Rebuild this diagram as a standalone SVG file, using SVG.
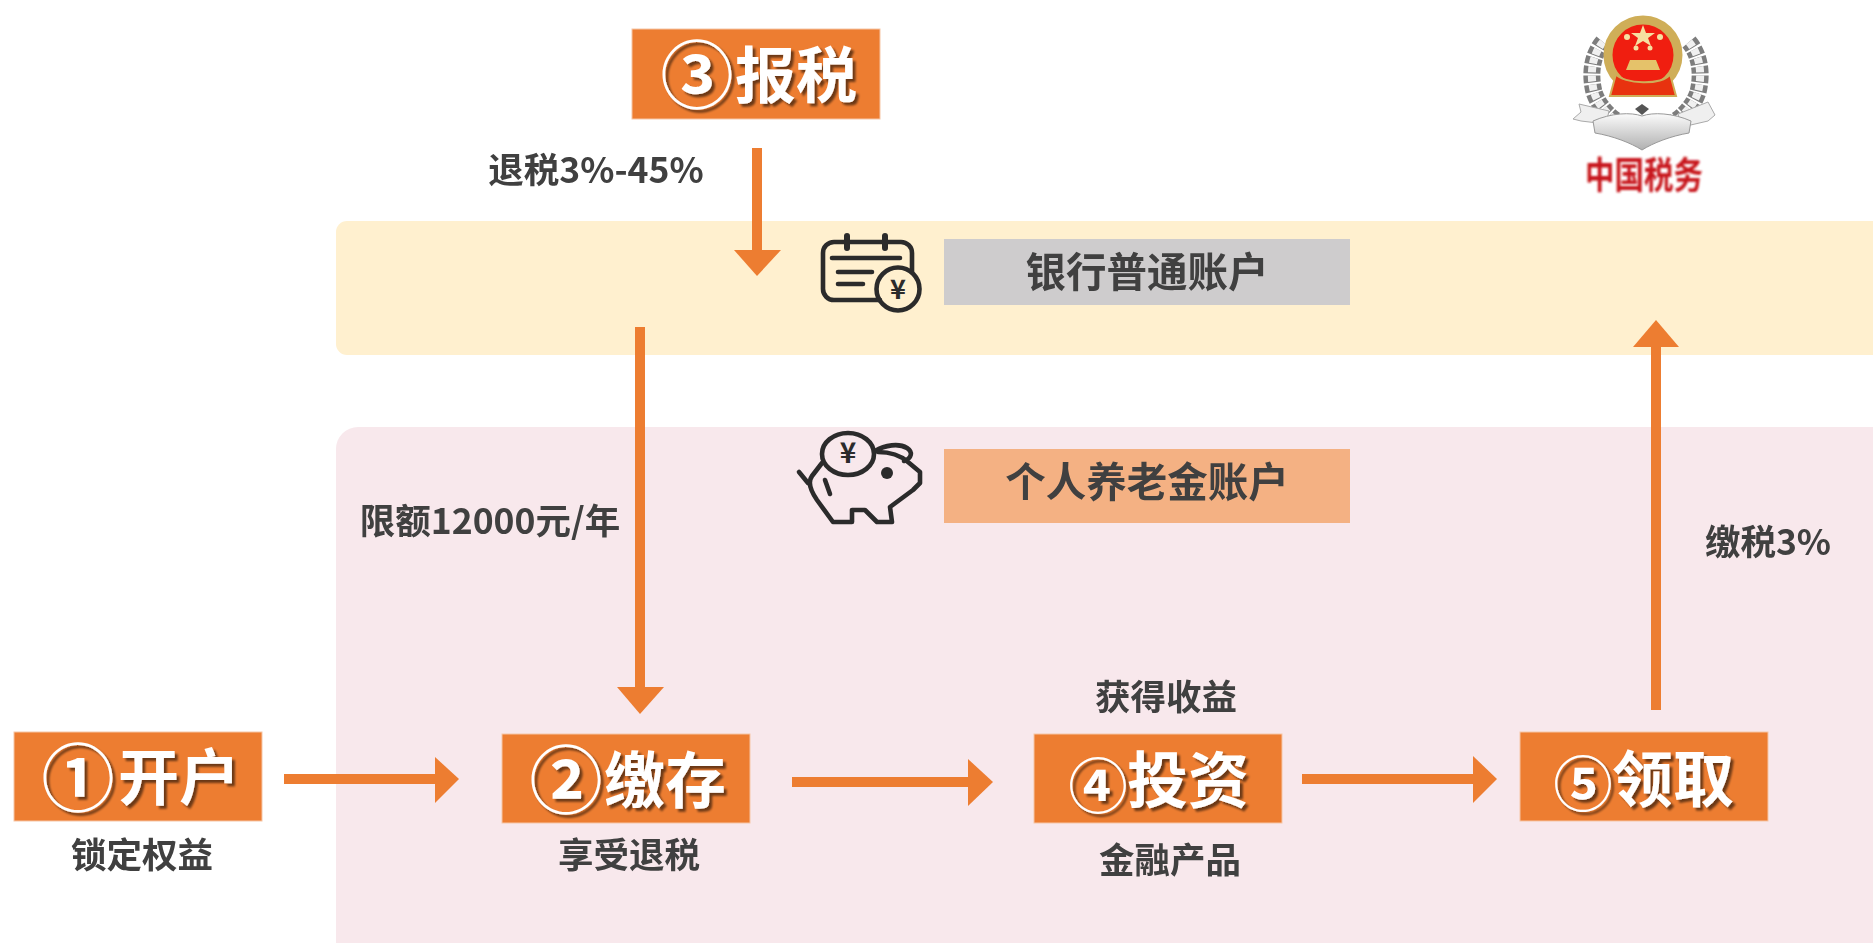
<svg xmlns="http://www.w3.org/2000/svg" width="1873" height="943" viewBox="0 0 1873 943">
<style>
text{font-family:"Noto Sans CJK SC","Liberation Sans",sans-serif;font-weight:700}
.box{fill:#ed7d31;stroke:#f6c6a6;stroke-width:1}
.head{fill:#fff;font-size:61px;text-anchor:middle;filter:url(#shadow)}
.num{font-size:73px}
.num2{font-size:59px}
.lbl{fill:#404040;font-size:35.5px;text-anchor:middle;filter:url(#soft)}
.acc{fill:#404040;font-size:40.5px;text-anchor:middle;filter:url(#soft)}
.conn{stroke:#ed7d31;stroke-width:10;fill:none}
.arrow{fill:#ed7d31}
.ico{fill:none;stroke:#2b2b2b;stroke-width:4.6;stroke-linecap:round;stroke-linejoin:round}
.w1{fill:none;stroke:#7d7d7d;stroke-width:17;stroke-dasharray:7 2}
.w2{fill:none;stroke:#f0f0f0;stroke-width:8;stroke-dasharray:6 3}
</style>
<defs>
<filter id="shadow" x="-10%" y="-10%" width="125%" height="130%"><feGaussianBlur in="SourceAlpha" stdDeviation="1.2"/><feOffset dx="3" dy="3"/><feComponentTransfer result="s"><feFuncA type="linear" slope="0.55"/></feComponentTransfer><feGaussianBlur in="SourceGraphic" stdDeviation="0.5" result="t"/><feMerge><feMergeNode in="s"/><feMergeNode in="t"/></feMerge></filter>
<filter id="soft"><feGaussianBlur stdDeviation="0.6"/></filter>
<filter id="soft2" x="-10%" y="-10%" width="120%" height="120%"><feGaussianBlur stdDeviation="0.8"/></filter>
<linearGradient id="silver" x1="0" y1="0" x2="0" y2="1"><stop offset="0" stop-color="#fbfbfb"/><stop offset="1" stop-color="#b0b0b0"/></linearGradient>
</defs>
<g id="band-bank"><rect x="336" y="221" width="1560" height="134" rx="11" fill="#fff0cf"/></g>
<g id="band-pension"><rect x="336" y="427" width="1560" height="540" rx="22" fill="#f8e8ec"/></g>

<g id="connectors">
<path class="conn" d="M757 148V250"/><polygon class="arrow" points="734,250 781,250 757,276"/>
<path class="conn" d="M640 327V690"/><polygon class="arrow" points="617,687 664,687 640,714"/>
<path class="conn" d="M284 779H435"/><polygon class="arrow" points="435,757 459,779 435,803"/>
<path class="conn" d="M792 782H968"/><polygon class="arrow" points="968,759 993,782 968,806"/>
<path class="conn" d="M1302 779H1473"/><polygon class="arrow" points="1473,756 1497,779 1473,803"/>
<path class="conn" d="M1656 710V345"/><polygon class="arrow" points="1633,347 1679,347 1656,320"/>
</g>

<g id="node-open"><rect class="box" x="14" y="732" width="248" height="89"/><text class="head num" x="78" y="805">①</text><text class="head" x="179" y="800">开户</text><text class="lbl" x="142" y="868">锁定权益</text></g>
<g id="node-pay"><rect class="box" x="502" y="734" width="248" height="89"/><text class="head num" x="566" y="807">②</text><text class="head" x="665" y="803">缴存</text><text class="lbl" x="629" y="868">享受退税</text></g>
<g id="node-tax"><rect class="box" x="632" y="29" width="248" height="90"/><text class="head num" x="697" y="102">③</text><text class="head" x="796" y="98">报税</text></g>
<g id="node-invest"><rect class="box" x="1034" y="734" width="248" height="89"/><text class="head num2" x="1098" y="808">④</text><text class="head" x="1188" y="803">投资</text><text class="lbl" x="1166" y="710">获得收益</text><text class="lbl" x="1170" y="873">金融产品</text></g>
<g id="node-take"><rect class="box" x="1520" y="732" width="248" height="89"/><text class="head num2" x="1583" y="806">⑤</text><text class="head" x="1673" y="802">领取</text></g>

<text class="lbl" x="596" y="183">退税3%-45%</text>
<text class="lbl" x="490" y="534">限额12000元/年</text>
<text class="lbl" x="1768" y="555">缴税3%</text>

<g id="node-bank"><rect x="944" y="239" width="406" height="66" fill="#cecccd"/><text class="acc" x="1147" y="287">银行普通账户</text>
<g class="ico"><path d="M880 300H834a11 11 0 0 1-11-11V253a11 11 0 0 1 11-11h67a11 11 0 0 1 11 11v19"/><path d="M847 236v12M885 236v12" stroke-width="6"/><path d="M832 258H900M838 272H872M838 284H863"/><circle cx="898" cy="289" r="21.5"/></g>
<text x="898" y="299" fill="#2b2b2b" font-size="27" text-anchor="middle">¥</text></g>

<g id="node-pension"><rect x="944" y="449" width="406" height="74" fill="#f4b183"/><text class="acc" x="1147" y="497">个人养老金账户</text>
<g class="ico"><ellipse cx="848" cy="454" rx="26" ry="21"/><path d="M875 451c10-6 24-8 32-3 6 4 5 10-3 13"/><path d="M878 452c12 0 22 3 30 10L920 472V483L913 490 890 507 892 522H877L865 510H852V522H833L817 500Q806 484 812 476L822 463"/><path d="M799 472l9 11M825 480l5 14"/><circle cx="887" cy="473" r="6" fill="#2b2b2b" stroke="none"/></g>
<text x="848" y="463" fill="#2b2b2b" font-size="28" text-anchor="middle">¥</text></g>

<g id="emblem">
<path class="w1" d="M1603 42c-10 12-14 30-9 50 5 16 20 30 38 38"/>
<path class="w1" d="M1689 42c10 12 14 30 9 50-5 16-20 30-38 38"/>
<path class="w2" d="M1603 42c-10 12-14 30-9 50 5 16 20 30 38 38"/>
<path class="w2" d="M1689 42c10 12 14 30 9 50-5 16-20 30-38 38"/>
<path d="M1579 104l30 7-3 13-25-3-8-2 8-7zM1708 102l7 13-7 6-26 6-4-13z" fill="#efefef" stroke="#aaa"/>
<path d="M1593 121c18-8 38-9 49-5 11-4 31-3 49 5l-2 12c-18 3-36 10-47 17-11-7-29-14-47-17z" fill="url(#silver)" stroke="#999"/>
<path d="M1642 104l7 5-7 6-7-6z" fill="#555"/>
<circle cx="1643" cy="55" r="35" fill="#f01e10" stroke="#cfae58" stroke-width="9"/>
<path d="M1616 74c6 10 48 12 54 0l6 22h-66z" fill="#e8320f" stroke="#cfae58" stroke-width="2"/>
<path d="M1630 60h26l4 10h-34z" fill="#e5c26a"/>
<polygon points="1643,25 1646,33 1655,33 1648,38 1651,46 1643,41 1635,46 1638,38 1631,33 1640,33" fill="#f6e0a0"/>
<circle cx="1627" cy="37" r="3" fill="#f6e0a0"/><circle cx="1660" cy="37" r="3" fill="#f6e0a0"/><circle cx="1636" cy="48" r="2.5" fill="#f6e0a0"/><circle cx="1650" cy="48" r="2.5" fill="#f6e0a0"/>
<text x="1644" y="189" fill="#c8161d" font-size="37" text-anchor="middle" filter="url(#soft2)" textLength="118" lengthAdjust="spacingAndGlyphs">中国税务</text>
</g>
</svg>
